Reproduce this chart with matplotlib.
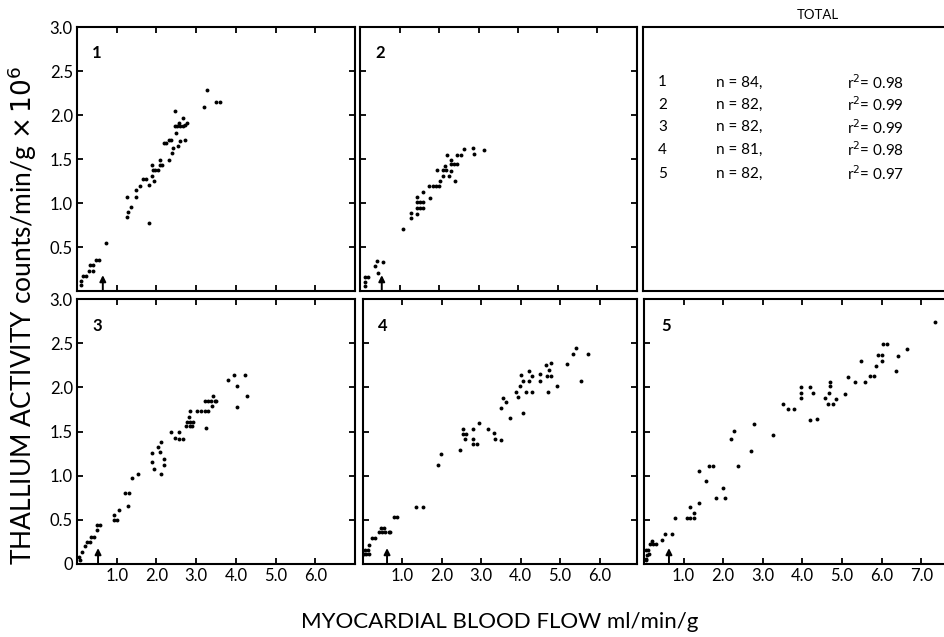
import numpy as np
from matplotlib import pyplot as plt

# panel 1
x1 = [0.10, 0.10, 0.16, 0.23, 0.31, 0.40, 0.33, 0.41, 0.48, 0.56, 0.72,
      1.25, 1.25, 1.28, 1.36, 1.49, 1.49, 1.59, 1.66, 1.74, 1.82, 1.82, 1.89, 1.89, 1.93,
      1.91, 1.97, 2.04, 2.08, 2.15, 2.08, 2.18, 2.25, 2.31, 2.31, 2.37, 2.39, 2.42, 2.47,
      2.49, 2.46, 2.52, 2.54, 2.60, 2.56, 2.60, 2.67, 2.67, 2.73, 2.73, 2.77, 3.19, 3.27,
      3.51, 3.61]
y1 = [0.07, 0.11, 0.17, 0.17, 0.23, 0.23, 0.30, 0.30, 0.35, 0.35, 0.55,
      1.07, 0.84, 0.90, 0.96, 1.07, 1.15, 1.19, 1.27, 1.27, 0.77, 1.20, 1.31, 1.43, 1.25,
      1.38, 1.38, 1.38, 1.43, 1.43, 1.49, 1.68, 1.68, 1.49, 1.72, 1.72, 1.57, 1.63, 2.04,
      1.79, 1.87, 1.87, 1.65, 1.71, 1.91, 1.87, 1.87, 1.97, 1.72, 1.89, 1.91, 2.09, 2.28,
      2.15, 2.15]

# panel 2
x2 = [0.13, 0.13, 0.13, 0.19, 0.38, 0.42, 0.46, 0.57,
      1.08, 1.30, 1.30, 1.43, 1.45, 1.52, 1.60, 1.45, 1.52, 1.60, 1.45, 1.58, 1.77,
      1.75, 1.84, 1.92, 2.00, 2.02, 1.94, 2.09, 2.09, 2.17, 2.15, 2.21, 2.24, 2.29, 2.31,
      2.30, 2.37, 2.46, 2.40, 2.46, 2.54, 2.63, 2.86, 2.89, 3.13]
y2 = [0.155, 0.106, 0.06, 0.155, 0.28, 0.34, 0.21, 0.33,
      0.71, 0.83, 0.89, 0.875, 0.94, 0.94, 0.94, 1.01, 1.01, 1.01, 1.07, 1.125, 1.06,
      1.19, 1.19, 1.19, 1.19, 1.25, 1.375, 1.31, 1.375, 1.375, 1.42, 1.55, 1.31, 1.49, 1.36,
      1.44, 1.44, 1.44, 1.25, 1.55, 1.55, 1.61, 1.62, 1.56, 1.60]

# panel 3
x3 = [0.06, 0.13, 0.08, 0.19, 0.24, 0.33, 0.35, 0.44, 0.51, 0.51, 0.58,
      0.92, 1.00, 0.94, 1.07, 1.22, 1.30, 1.29, 1.38, 1.53, 1.89, 1.89, 1.95, 2.04, 2.10,
      2.12, 2.11, 2.20, 2.19, 2.37, 2.46, 2.58, 2.58, 2.67, 2.75, 2.84, 2.90, 2.82, 2.84,
      2.77, 2.85, 2.92, 3.03, 3.11, 3.22, 3.30, 3.38, 3.47, 3.22, 3.30, 3.26, 3.41, 3.43,
      3.51, 3.80, 3.95, 4.04, 4.04, 4.23, 4.29]
y3 = [0.08, 0.14, 0.05, 0.20, 0.25, 0.25, 0.31, 0.31, 0.38, 0.44, 0.44,
      0.50, 0.50, 0.55, 0.61, 0.80, 0.80, 0.66, 0.97, 1.02, 1.26, 1.15, 1.08, 1.33, 1.27,
      1.38, 1.02, 1.19, 1.125, 1.49, 1.43, 1.49, 1.42, 1.42, 1.56, 1.56, 1.56, 1.66, 1.73,
      1.61, 1.61, 1.61, 1.73, 1.73, 1.845, 1.845, 1.845, 1.845, 1.73, 1.73, 1.54, 1.79, 1.90,
      1.845, 2.08, 2.14, 2.02, 1.78, 2.14, 1.90]

# panel 4
x4 = [0.02, 0.08, 0.15, 0.05, 0.12, 0.15, 0.23, 0.31, 0.40, 0.48, 0.57, 0.65, 0.69,
      0.46, 0.52, 0.78, 0.86, 1.35, 1.52, 1.90, 1.98, 2.47, 2.53, 2.53, 2.62, 2.59, 2.79,
      2.80, 2.79, 2.89, 2.95, 3.17, 3.33, 3.34, 3.50, 3.50, 3.56, 3.63, 3.73, 3.88, 3.94,
      3.97, 4.00, 4.05, 4.05, 4.13, 4.20, 4.22, 4.28, 4.29, 4.48, 4.48, 4.65, 4.68, 4.66,
      4.77, 4.72, 4.77, 4.93, 5.17, 5.32, 5.40, 5.53, 5.70]
y4 = [0.11, 0.11, 0.11, 0.16, 0.16, 0.22, 0.29, 0.29, 0.36, 0.36, 0.36, 0.36, 0.36,
      0.405, 0.405, 0.53, 0.53, 0.64, 0.65, 1.12, 1.24, 1.29, 1.53, 1.47, 1.47, 1.42, 1.53,
      1.42, 1.36, 1.36, 1.60, 1.53, 1.48, 1.41, 1.40, 1.77, 1.88, 1.83, 1.65, 1.95, 1.89,
      2.01, 2.14, 2.07, 1.71, 1.95, 2.07, 2.19, 2.13, 1.95, 2.15, 2.07, 2.25, 1.95, 2.13,
      2.13, 2.20, 2.27, 2.01, 2.26, 2.375, 2.44, 2.07, 2.375]

# panel 5
x5 = [0.05, 0.07, 0.05, 0.09, 0.13, 0.04, 0.14, 0.22, 0.30, 0.19, 0.45, 0.53, 0.70,
      0.78, 1.08, 1.16, 1.25, 1.16, 1.25, 1.40, 1.40, 1.57, 1.63, 1.73, 1.82, 1.99, 2.05,
      2.19, 2.28, 2.37, 2.70, 2.77, 3.26, 3.51, 3.64, 3.78, 3.97, 3.97, 3.97, 4.20, 4.20,
      4.27, 4.37, 4.58, 4.67, 4.69, 4.69, 4.65, 4.76, 4.85, 5.07, 5.15, 5.32, 5.47, 5.57,
      5.70, 5.81, 5.87, 5.92, 6.02, 6.02, 6.03, 6.14, 6.37, 6.42, 6.65, 7.35]
y5 = [0.06, 0.10, 0.16, 0.16, 0.11, 0.04, 0.23, 0.23, 0.23, 0.265, 0.27, 0.34, 0.34,
      0.52, 0.52, 0.52, 0.52, 0.64, 0.58, 0.69, 1.05, 0.94, 1.11, 1.11, 0.75, 0.86, 0.75,
      1.41, 1.51, 1.11, 1.28, 1.59, 1.46, 1.81, 1.76, 1.75, 2.00, 1.94, 1.875, 2.00, 1.63,
      1.94, 1.64, 1.875, 1.94, 2.06, 2.01, 1.81, 1.81, 1.87, 1.93, 2.12, 2.06, 2.30, 2.06,
      2.13, 2.13, 2.24, 2.37, 2.37, 2.30, 2.49, 2.49, 2.19, 2.36, 2.43, 2.74]

arrow_x = [0.65, 0.55, 0.53, 0.61, 0.63]
panel_ids = ['1', '2', '3', '4', '5']
n_vals = [84, 82, 82, 81, 82]
r2_vals = ['0.98', '0.99', '0.99', '0.98', '0.97']

plt.rcParams['font.family'] = ['Lato', 'DejaVu Sans']

W, H = 945, 637
fig = plt.figure(figsize=(W/100, H/100), dpi=100)

def box(l, t, w, h):
    return [l/W, 1 - (t + h)/H, w/W, h/H]

axs = [fig.add_axes(box(77, 27, 278, 264)),
       fig.add_axes(box(360, 27, 277, 264)),
       fig.add_axes(box(643, 27, 320, 264)),
       fig.add_axes(box(77, 299, 278, 265)),
       fig.add_axes(box(363, 299, 274, 265)),
       fig.add_axes(box(644, 299, 320, 265))]
tab = axs.pop(2)

data = [(x1, y1), (x2, y2), (x3, y3), (x4, y4), (x5, y5)]
xmax = [7.0, 7.0, 7.0, 6.95, 8.08]

for i, ax in enumerate(axs):
    xs, ys = data[i]
    ax.plot(xs, ys, 'ko', ms=2.8, mew=0)
    ax.annotate('', xy=(arrow_x[i], 0.18), xytext=(arrow_x[i], 0.0),
                arrowprops=dict(arrowstyle='-|>', color='k', lw=1.4, mutation_scale=9,
                                shrinkA=0, shrinkB=0))
    ax.set_xlim(0, xmax[i])
    ax.set_ylim(0, 3.0)
    ax.set_xticks(np.arange(1, 8) if i == 4 else np.arange(1, 7))
    ax.set_yticks([0.5, 1.0, 1.5, 2.0, 2.5, 3.0])
    ax.tick_params(direction='in', length=4, width=1.3, top=True, right=True,
                   labelsize=12, pad=3)
    for s in ax.spines.values():
        s.set_linewidth(1.5)
    ax.text(0.055, 0.93, panel_ids[i], transform=ax.transAxes, fontsize=12,
            fontweight='bold', va='top')
    if i < 2:
        ax.set_xticklabels([])
    else:
        ax.set_xticklabels(['%.1f' % v for v in ax.get_xticks()])
    if i in (0, 2):
        labs = ['%.1f' % v for v in ax.get_yticks()]
        if i == 2:
            ax.set_yticks([0, 0.5, 1.0, 1.5, 2.0, 2.5, 3.0])
            labs = ['0'] + labs
        ax.set_yticklabels(labs)
    else:
        ax.set_yticklabels([])

tab.set_xticks([])
tab.set_yticks([])
for s in tab.spines.values():
    s.set_linewidth(1.5)
tab.set_xlim(0, 1)
tab.set_ylim(0, 1)
fig.text(818/W, 1 - 15/H, 'TOTAL', fontsize=9.5, ha='center', va='center')
tx = [15/320, 73/320, 204/320]
row_y = [0.79, 0.705, 0.62, 0.535, 0.445]
for k in range(5):
    tab.text(tx[0], row_y[k], panel_ids[k], fontsize=11, va='center')
    tab.text(tx[1], row_y[k], 'n = %d,' % n_vals[k], fontsize=11, va='center')
    tab.text(tx[2], row_y[k], 'r$^2$= ' + r2_vals[k], fontsize=11, va='center')

fig.text(0.024, 0.505, 'THALLIUM ACTIVITY counts/min/g $\\times\\,10^6$', rotation=90,
         fontsize=19, ha='center', va='center')
fig.text(500/W, 1 - 622/H, 'MYOCARDIAL BLOOD FLOW ml/min/g', fontsize=16,
         ha='center', va='center')

fig.savefig('out.png', dpi=100)
